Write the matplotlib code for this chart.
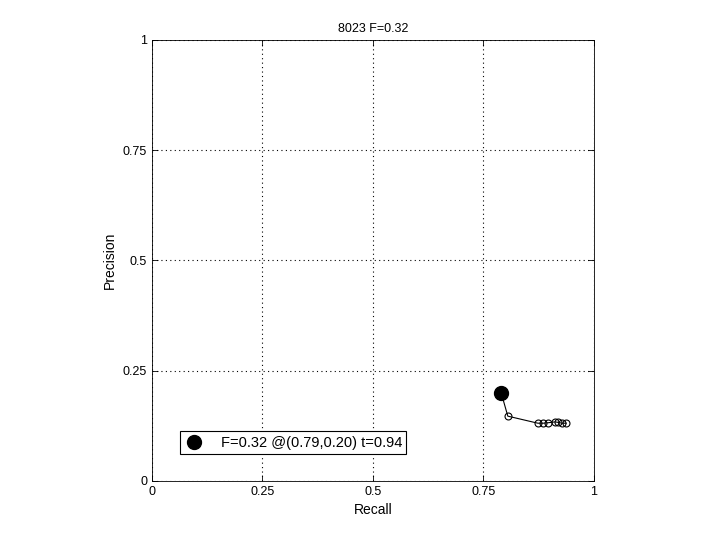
import matplotlib
matplotlib.use("Agg")
import matplotlib.pyplot as plt

recall = [0.805, 0.873, 0.885, 0.896, 0.912, 0.918, 0.928, 0.937]
precision = [0.147, 0.131, 0.131, 0.132, 0.134, 0.133, 0.131, 0.131]
best_r, best_p = 0.79, 0.20
ticks = [0, 0.25, 0.5, 0.75, 1]
tick_labels = ["0", "0.25", "0.5", "0.75", "1"]

plt.rcParams['font.family'] = ['Liberation Sans', 'DejaVu Sans']
plt.rcParams['font.size'] = 9

fig = plt.figure(figsize=(7.2, 5.4), dpi=100)
ax = fig.add_axes([0.2111, 0.1093, 0.6139, 0.8167])

ax.plot([best_r] + recall, [best_p] + precision, color='k', lw=0.8)
ax.plot(recall, precision, 'o', mfc='none', mec='k', ms=5, mew=0.8)
ax.plot(best_r, best_p, 'o', color='k', ms=10,
        label="F=0.32 @(0.79,0.20) t=0.94")

ax.set_xlim(0, 1)
ax.set_ylim(0, 1)
ax.set_xticks(ticks)
ax.set_xticklabels(tick_labels)
ax.set_yticks(ticks)
ax.set_yticklabels(tick_labels)
ax.tick_params(direction='in', length=4, top=True, right=True, width=0.6)
ax.grid(True, linestyle=(0, (1, 3)), color='k', lw=0.8)
for s in ax.spines.values():
    s.set_linewidth(0.6)

ax.set_xlabel("Recall", fontsize=10)
ax.set_ylabel("Precision", fontsize=10)
ax.set_title("8023 F=0.32", fontsize=9)

leg = ax.legend(loc='lower left', bbox_to_anchor=(0.063, 0.061), fontsize=10.5,
                fancybox=False, framealpha=1, edgecolor='k',
                handlelength=1.4, borderpad=0.3, handletextpad=1.1,
                borderaxespad=0)
leg.get_frame().set_linewidth(0.8)

fig.savefig("out.png")
